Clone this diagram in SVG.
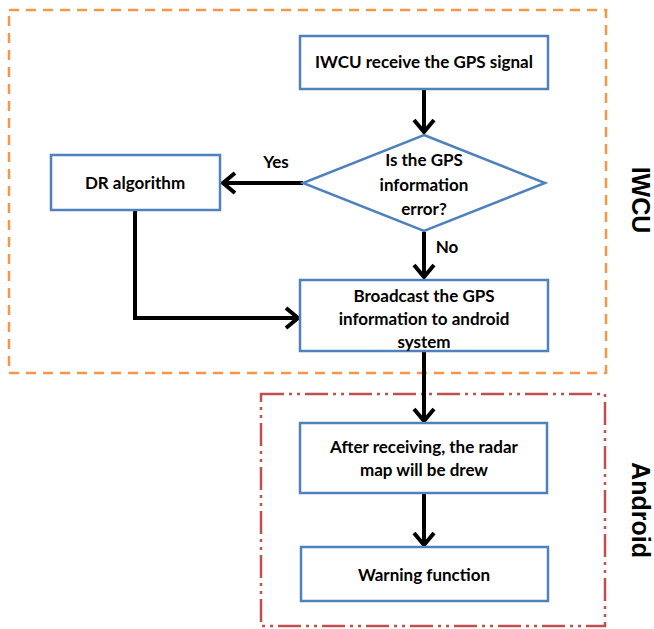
<svg xmlns="http://www.w3.org/2000/svg" width="654" height="629" viewBox="0 0 654 629">
<style>
.bg{fill:#ffffff}
.node rect,.node polygon{fill:#ffffff;stroke:#4F81BD;stroke-width:2.5}
.t{font-family:Lato,"Open Sans","Liberation Sans",sans-serif;font-weight:bold;font-size:17px;fill:#000;text-anchor:middle}
.side{font-family:"Liberation Sans",Arial,sans-serif;font-weight:bold;font-size:25px;fill:#000;text-anchor:middle}
.conn{fill:none;stroke:#000;stroke-width:4}
.iwcu{fill:none;stroke:#F79646;stroke-width:2.5;stroke-dasharray:10 7}
.android{fill:none;stroke:#C0504D;stroke-width:2.5;stroke-dasharray:23 5 3 5 3 5}
</style>
<defs>
<marker id="arr" markerUnits="userSpaceOnUse" viewBox="0 0 16 24" refX="14" refY="12" markerWidth="16" markerHeight="24" orient="auto">
<path d="M2,2 L14,12 L2,22" fill="none" stroke="#000" stroke-width="4"/>
</marker>
</defs>
<rect class="bg" x="0" y="0" width="654" height="629"/>
<g id="groups">
<rect id="iwcu-boundary" class="iwcu" x="9" y="10" width="597" height="363"/>
<rect id="android-boundary" class="android" x="261" y="394" width="344" height="232"/>
<text class="side" transform="translate(641,200) rotate(90)" dy="9">IWCU</text>
<text class="side" transform="translate(641,510) rotate(90)" dy="9">Android</text>
</g>
<g id="connectors">
<path class="conn" d="M424,89 V132" marker-end="url(#arr)"/>
<path class="conn" d="M303,183 H223" marker-end="url(#arr)"/>
<path class="conn" d="M424,232 V277" marker-end="url(#arr)"/>
<path class="conn" d="M135,211 V318 H298" marker-end="url(#arr)"/>
<path class="conn" d="M424,352 V421" marker-end="url(#arr)"/>
<path class="conn" d="M424,493 V545" marker-end="url(#arr)"/>
<text class="t" x="276" y="168">Yes</text>
<text class="t" x="447" y="253">No</text>
</g>
<g id="n1" class="node">
<rect x="300" y="36" width="248" height="53"/>
<text class="t" x="424" y="68">IWCU receive the GPS signal</text>
</g>
<g id="n2" class="node">
<polygon points="424,135 545,183 424,231 303,183"/>
<text class="t" x="424" y="166">Is the GPS</text>
<text class="t" x="424" y="191">information</text>
<text class="t" x="424" y="215">error?</text>
</g>
<g id="n3" class="node">
<rect x="51" y="155" width="169" height="55"/>
<text class="t" x="135" y="189">DR algorithm</text>
</g>
<g id="n4" class="node">
<rect x="300" y="280" width="248" height="71"/>
<text class="t" x="424" y="302">Broadcast the GPS</text>
<text class="t" x="424" y="325">information to android</text>
<text class="t" x="424" y="348">system</text>
</g>
<g id="n5" class="node">
<rect x="300" y="423" width="247" height="70"/>
<text class="t" x="424" y="453">After receiving, the radar</text>
<text class="t" x="424" y="476">map will be drew</text>
</g>
<g id="n6" class="node">
<rect x="301" y="547" width="247" height="54"/>
<text class="t" x="424" y="581">Warning function</text>
</g>
</svg>
